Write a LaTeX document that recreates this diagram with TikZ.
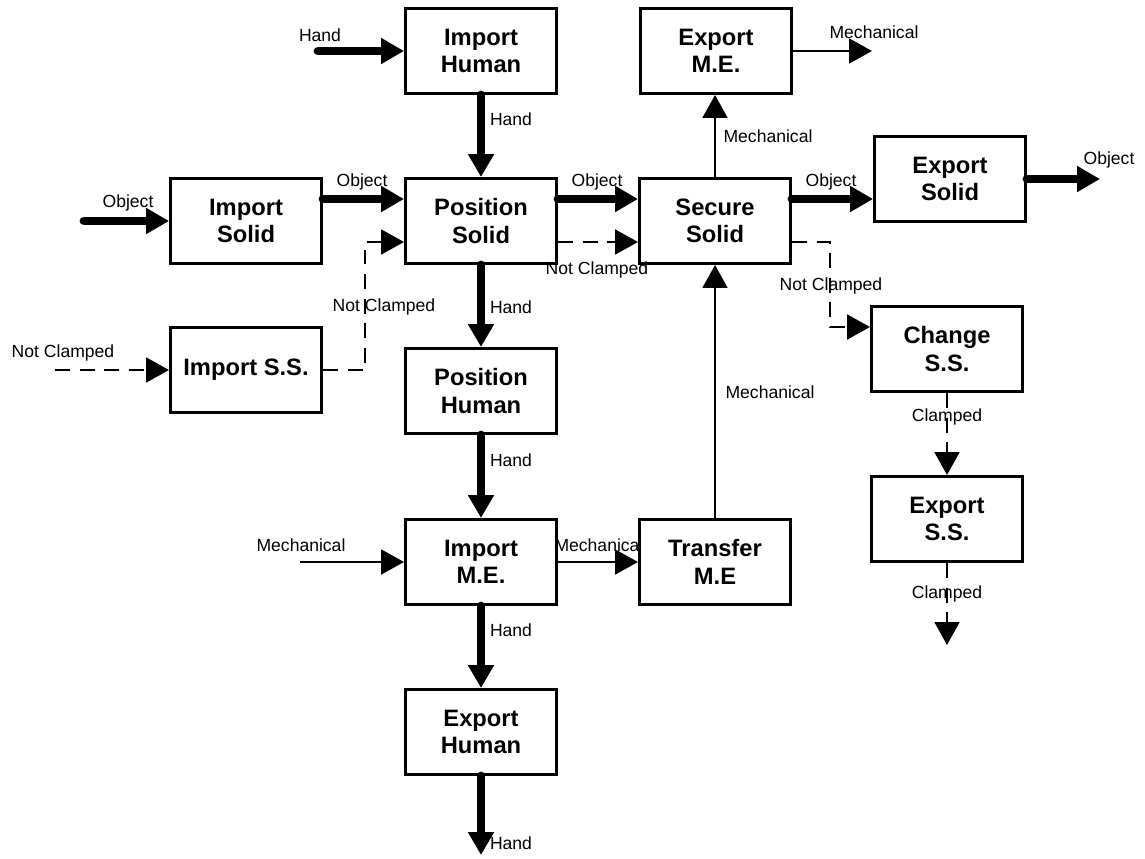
\documentclass[tikz,border=0pt]{standalone}
\usepackage{fontspec}
\setmainfont{Liberation Sans}
\usetikzlibrary{arrows.meta}
\begin{document}
\begin{tikzpicture}[x=0.02cm,y=-0.02cm,
  fn/.style={draw, line width=1.7pt, minimum width=3.02cm, minimum height=1.7cm,
    inner sep=0pt, align=center, fill=white,
    font=\fontsize{13.5}{15.5}\selectfont\bfseries},
  lbl/.style={inner sep=0pt, font=\fontsize{10}{12}\selectfont},
  thickflow/.style={line width=5pt, line cap=round, -{Triangle[length=13pt,width=14pt]}},
  thinflow/.style={line width=1.6pt, -{Triangle[length=13pt,width=14pt]}},
  dashflow/.style={line width=1.6pt, dash pattern=on 8.5pt off 5.5pt,
    -{Triangle[length=13pt,width=14pt]}},
]
\useasboundingbox (0,0) rectangle (1145,858);

% function blocks
\node[fn] (ih)  at (481,51)  {Import\\Human};
\node[fn] (xme) at (716,51)  {Export\\M.E.};
\node[fn] (is)  at (246,221) {Import\\Solid};
\node[fn] (ps)  at (481,221) {Position\\Solid};
\node[fn] (ss)  at (715,221) {Secure\\Solid};
\node[fn] (xs)  at (950,179) {Export\\Solid};
\node[fn] (iss) at (246,370) {Import S.S.};
\node[fn] (css) at (947,349) {Change\\S.S.};
\node[fn] (ph)  at (481,391) {Position\\Human};
\node[fn] (xss) at (947,519) {Export\\S.S.};
\node[fn] (ime) at (481,562) {Import\\M.E.};
\node[fn] (tme) at (715,562) {Transfer\\M.E};
\node[fn] (xh)  at (481,732) {Export\\Human};

% free ends and bend points
\coordinate (inH)  at (318,51);
\coordinate (inO)  at (84,221);
\coordinate (inNC) at (55,370);
\coordinate (inM)  at (300,562);
\coordinate (outM) at (872,51);
\coordinate (outO) at (1100,179);
\coordinate (outH) at (481,855);
\coordinate (outC) at (947,645);
\coordinate (bendA) at (830,0);
\coordinate (bendB) at (365,0);

% upper and lower ports
\coordinate (isU)  at ([yshift=0.44cm]is.east);
\coordinate (psUi) at ([yshift=0.44cm]ps.west);
\coordinate (psUo) at ([yshift=0.44cm]ps.east);
\coordinate (ssUi) at ([yshift=0.44cm]ss.west);
\coordinate (ssUo) at ([yshift=0.44cm]ss.east);
\coordinate (psLi) at ([yshift=-0.42cm]ps.west);
\coordinate (psLo) at ([yshift=-0.42cm]ps.east);
\coordinate (ssLi) at ([yshift=-0.42cm]ss.west);
\coordinate (ssLo) at ([yshift=-0.42cm]ss.east);
\coordinate (cssU) at ([yshift=0.44cm]css.west);

% material flows (hand / object)
\draw[thickflow] (inH) -- (ih.west);
\draw[thickflow] (ih.south) -- (ps.north);
\draw[thickflow] (inO) -- (is.west);
\draw[thickflow] (isU) -- (psUi);
\draw[thickflow] (psUo) -- (ssUi);
\draw[thickflow] (ssUo) -- (ssUo -| xs.west);
\draw[thickflow] (xs.east) -- (outO);
\draw[thickflow] (ps.south) -- (ph.north);
\draw[thickflow] (ph.south) -- (ime.north);
\draw[thickflow] (ime.south) -- (xh.north);
\draw[thickflow] (xh.south) -- (outH);

% energy flows
\draw[thinflow] (ss.north) -- (ss.north |- xme.south);
\draw[thinflow] (xme.east) -- (outM);
\draw[thinflow] (inM) -- (ime.west);
\draw[thinflow] (ime.east) -- (tme.west);
\draw[thinflow] (tme.north) -- (ss.south);

% signal flows
\draw[dashflow] (inNC) -- (iss.west);
\draw[dashflow] (iss.east) -- (iss.east -| bendB) -- (bendB |- psLi) -- (psLi);
\draw[dashflow] (psLo) -- (ssLi);
\draw[dashflow] (ssLo) -- (ssLo -| bendA) -- (bendA |- cssU) -- (cssU);
\draw[dashflow] (css.south) -- (xss.north);
\draw[dashflow] (xss.south) -- (outC);

% flow labels
\node[lbl] (l1)  at (320,35)  {Hand};
\node[lbl] (l2)  at (511,119) {Hand};
\node[lbl] (l3)  at (128,203) {Object};
\node[lbl] (l4)  at (362,182) {Object};
\node[lbl] (l5)  at (597,182) {Object};
\node[lbl] (l6)  at (831,182) {Object};
\node[lbl] (l7)  at (1109,160) {Object};
\node[lbl] (l8)  at (768,136) {Mechanical};
\node[lbl] (l9)  at (874,32)  {Mechanical};
\node[lbl] (l10) at (597,270) {Not Clamped};
\node[lbl] (l11) at (831,286) {Not Clamped};
\node[lbl] (l12) at (384,307) {Not Clamped};
\node[lbl] (l13) at (63,353)  {Not Clamped};
\node[lbl] (l14) at (511,307) {Hand};
\node[lbl] (l15) at (511,460) {Hand};
\node[lbl] (l16) at (301,545) {Mechanical};
\node[lbl] (l17) at (597,545) {Mechanica};
\node[lbl] (l18) at (770,392) {Mechanical};
\node[lbl] (l19) at (511,630) {Hand};
\node[lbl] (l20) at (511,843) {Hand};
\node[lbl] (l21) at (947,417) {Clamped};
\node[lbl] (l22) at (947,594) {Clamped};
\end{tikzpicture}
\end{document}
